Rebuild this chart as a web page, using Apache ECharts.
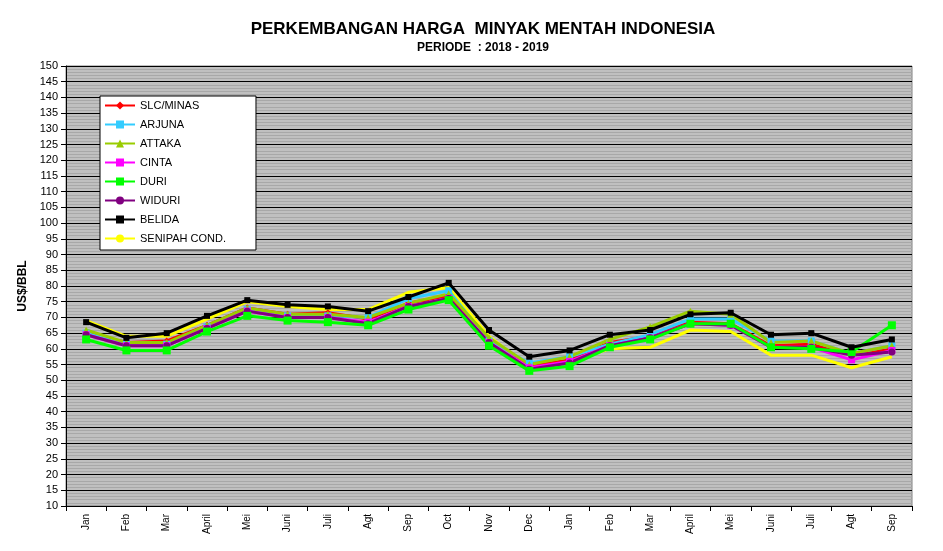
<!DOCTYPE html>
<html><head><meta charset="utf-8">
<script src="https://cdn.jsdelivr.net/npm/echarts@6/dist/echarts.min.js"></script>
<style>html,body{margin:0;background:#fff}#c{width:943px;height:551px}</style>
</head><body><div id="c"></div>
<script>
const categories=['Jan','Feb','Mar','April','Mei','Juni','Juli','Agt','Sep','Oct','Nov','Dec','Jan','Feb','Mar','April','Mei','Juni','Juli','Agt','Sep'];
const slcMinas=[65,62,62.5,67.5,73,71,71.5,69.5,74.5,77,63,54.5,56.5,62,64,68.5,68,61,61.5,58,60];
const arjuna=[65,61.5,61.5,67,72.5,70.5,70.5,70,76,78.5,62.5,55.5,57.5,61.5,64.5,69.5,69.5,62.5,62.5,58.5,61];
const attaka=[66,62,62,67.5,73,71,71,70,74.5,77.5,63.5,55,57.5,63,67,72,71,62,62.5,58.5,61];
const cinta=[64.5,61,61,66.5,72,70,70,68.5,73.5,76,62,54,56,61,63.5,68,67.5,60.5,60.5,56.5,59.5];
const duri=[63,59.5,59.5,65.5,70.5,69,68.5,67.5,72.5,75.5,61,53,54.5,60.5,63,68,68,60.5,60,59,67.5];
const widuri=[64.5,61,61,66.5,72,70,70,68,73.5,76,62,53.5,55.5,61,63.5,68,67.5,60.5,60.5,58,59];
const belida=[68.5,63.5,65,70.5,75.5,74,73.5,72,76.5,81,66,57.5,59.5,64.5,66,71,71.5,64.5,65,60.5,63];
const senipah=[69,64,64,69.5,75,73.5,72.5,72.5,78,79.5,64,54,56,60,60.5,66,65.5,58,58,54,57.5];
const defs=[['SLC/MINAS',slcMinas,'#ff0000','diamond',7],['ARJUNA',arjuna,'#33ccff','rect',7],['ATTAKA',attaka,'#99cc00','triangle',7],['CINTA',cinta,'#ff00ff','rect',7],['DURI',duri,'#00ff00','rect',8],['WIDURI',widuri,'#800080','circle',7],['BELIDA',belida,'#000000','rect',6],['SENIPAH COND.',senipah,'#ffff00','none',0]];
const order=[7,0,1,2,3,5,4,6];
const series=order.map(i=>{const d=defs[i];return{name:d[0],type:'line',data:d[1],symbol:d[3],symbolSize:d[4],lineStyle:{width:3,color:d[2]},itemStyle:{color:d[2]},z:i==6?10:2};});
const c=echarts.init(document.getElementById('c'));
c.setOption({animation:false,
title:{text:'PERKEMBANGAN HARGA  MINYAK MENTAH INDONESIA',subtext:'PERIODE  : 2018 - 2019',left:478,textAlign:'center',top:16,itemGap:4,
textStyle:{fontFamily:'Liberation Sans',fontSize:17,fontWeight:'bold',color:'#000'},subtextStyle:{fontFamily:'Liberation Sans',fontSize:12,fontWeight:'bold',color:'#000'}},
legend:{orient:'vertical',left:100,top:96,data:defs.map(d=>d[0]),backgroundColor:'#fff',borderColor:'#000',borderWidth:1,padding:[4,30,6,4],itemGap:8,itemWidth:30,itemHeight:10,
textStyle:{fontFamily:'Liberation Sans',fontSize:11,color:'#000'}},
grid:{left:66,right:31,top:66,bottom:45,show:true,backgroundColor:'#c0c0c0',borderColor:'#808080'},
xAxis:{type:'category',data:categories,boundaryGap:true,axisLine:{lineStyle:{color:'#000'}},axisTick:{show:true,interval:0,lineStyle:{color:'#000'}},
axisLabel:{rotate:90,interval:0,fontFamily:'Liberation Sans',fontSize:10,color:'#000'}},
yAxis:{type:'value',min:10,max:150,interval:5,name:'US$/BBL',nameLocation:'middle',nameGap:36,nameTextStyle:{fontFamily:'Liberation Sans',fontSize:12,fontWeight:'bold',color:'#000'},
axisLine:{show:true,lineStyle:{color:'#000'}},axisTick:{show:true,lineStyle:{color:'#000'}},
axisLabel:{fontFamily:'Liberation Sans',fontSize:11,color:'#000'},
splitLine:{lineStyle:{color:'#000',width:1}},minorTick:{show:false,splitNumber:5},minorSplitLine:{show:true,lineStyle:{color:'#a8a8a8',width:1}}},
series});
</script></body></html>
